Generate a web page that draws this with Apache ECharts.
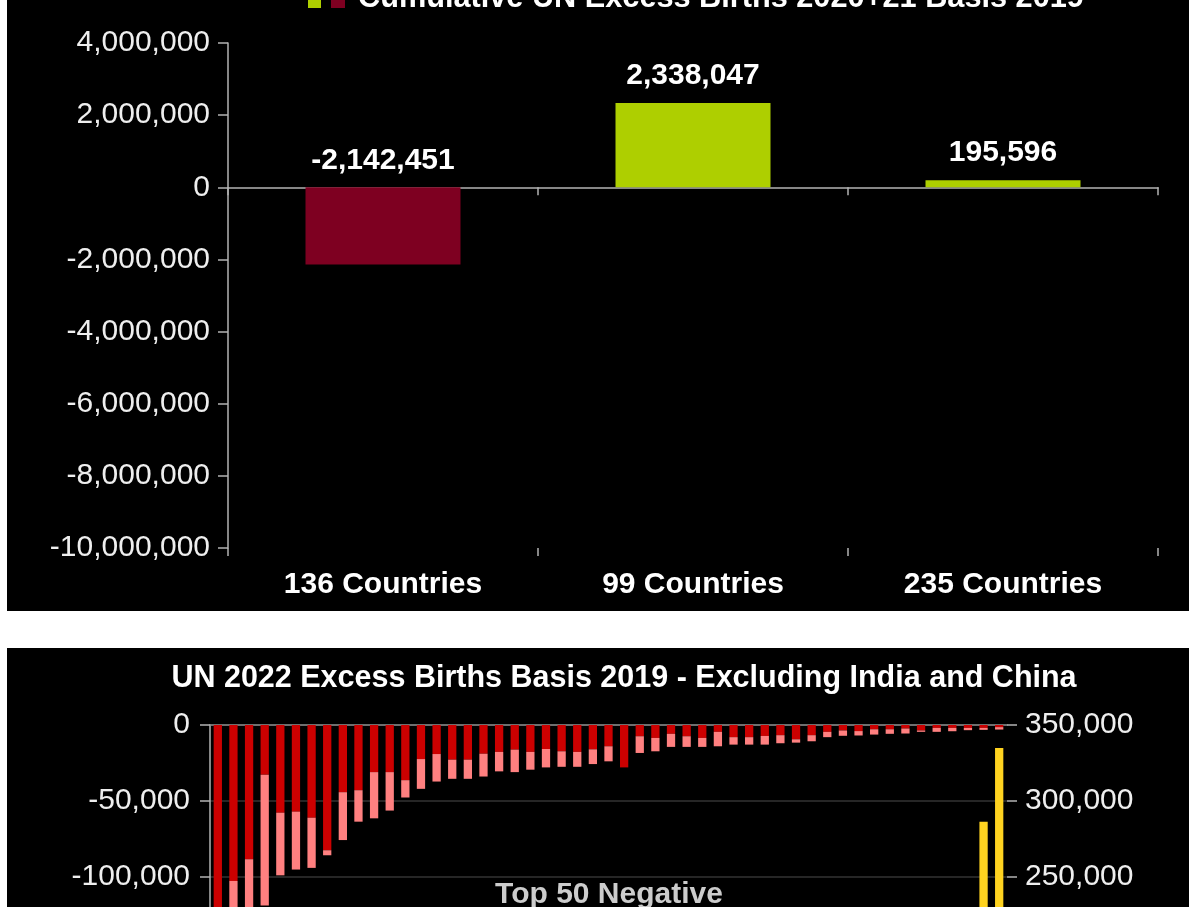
<!DOCTYPE html>
<html>
<head>
<meta charset="utf-8">
<script src="https://cdn.jsdelivr.net/npm/echarts@6/dist/echarts.min.js"></script>
<style>
  html, body { margin: 0; padding: 0; background: #fff; }
  #chart { width: 1189px; height: 907px; }
</style>
</head>
<body>
<div id="chart"></div>
<script>
// top: cumulative UN excess births 2020+21 (basis 2019)
const groupNames = ['136 Countries', '99 Countries', '235 Countries']
const groupTotals = [-2142451, 2338047, 195596]
const groupColors = ['#7e0021', '#aecf00', '#aecf00']

// bottom: UN 2022 excess births, top 50 negative (excl. India & China)
const ranks = ['1', '2', '3', '4', '5', '6', '7', '8', '9', '10', '11', '12', '13', '14', '15', '16', '17',
  '18', '19', '20', '21', '22', '23', '24', '25', '26', '27', '28', '29', '30', '31', '32', '33', '34',
  '35', '36', '37', '38', '39', '40', '41', '42', '43', '44', '45', '46', '47', '48', '49', '50', '51']
const negDark = [-140000, -102600, -88300, -32700, -57700, -57000, -61000, -82400, -44200, -42900,
  -31000, -31000, -36300, -22400, -19100, -22800, -22800, -18900, -17700, -16200,
  -17700, -15800, -17300, -17700, -16000, -14000, -27900, -7400, -8500, -5800,
  -7400, -8500, -4500, -8000, -8000, -7200, -6700, -9400, -6700, -4500,
  -3600, -4000, -2800, -2800, -2300, -3600, -1900, -1900, -1900, -1900, -1400]
const negLight = [-30000, -30000, -40000, -86000, -41200, -38100, -33000, -3300, -31500, -20700,
  -30400, -25300, -11400, -19600, -18100, -12600, -12600, -15000, -12800, -14800,
  -11700, -12100, -10200, -9800, -9700, -9900, 0, -11000, -8800, -8600,
  -7000, -5900, -9500, -4900, -4900, -5700, -5300, -2200, -4000, -3500,
  -3500, -2900, -3500, -3000, -3300, -900, -2600, -2200, -1500, -1300, -1600]
const posBars = ['-', '-', '-', '-', '-', '-', '-', '-', '-', '-', '-', '-', '-', '-', '-', '-', '-',
  '-', '-', '-', '-', '-', '-', '-', '-', '-', '-', '-', '-', '-', '-', '-', '-', '-',
  '-', '-', '-', '-', '-', '-', '-', '-', '-', '-', '-', '-', '-', '-', '-', 286400, 334900]

const fmt = v => Number(v).toLocaleString('en-US')
const font = 'Liberation Sans'
const axisGray = '#b3b3b3'
const labelColor = '#eeeeee'

const chart = echarts.init(document.getElementById('chart'))

const option = {
  backgroundColor: '#ffffff',
  animation: false,
  textStyle: { fontFamily: font },
  graphic: [
    { type: 'rect', z: -10, shape: { x: 7, y: 0, width: 1182, height: 611 }, style: { fill: '#000' } },
    { type: 'rect', z: -10, shape: { x: 7, y: 648, width: 1182, height: 259 }, style: { fill: '#000' } },
    // legend squares + title of top chart (clipped at the top edge)
    { type: 'rect', shape: { x: 308, y: -6, width: 13, height: 14 }, style: { fill: '#aecf00' } },
    { type: 'rect', shape: { x: 331, y: -6, width: 14, height: 14 }, style: { fill: '#7e0021' } },
    {
      type: 'text', x: 358, y: -1,
      style: {
        text: 'Cumulative UN Excess Births 2020+21 Basis 2019', fill: '#fff',
        font: 'bold 30.7px "Liberation Sans"', verticalAlign: 'middle', align: 'left'
      }
    },
    {
      type: 'text', x: 624, y: 679,
      style: {
        text: 'UN 2022 Excess Births Basis 2019 - Excluding India and China', fill: '#fff',
        font: 'bold 30.5px "Liberation Sans"', verticalAlign: 'middle', align: 'center'
      }
    },
    {
      type: 'text', x: 609, y: 895, z: 20,
      style: {
        text: 'Top 50 Negative', fill: '#cccccc',
        font: 'bold 30px "Liberation Sans"', verticalAlign: 'middle', align: 'center'
      }
    }
  ],
  grid: [
    { left: 228, right: 31, top: 43, height: 505, outerBoundsMode: 'none', containLabel: false },
    { left: 210, right: 182, top: 725, height: 532, outerBoundsMode: 'none', containLabel: false }
  ],
  xAxis: [
    {
      gridIndex: 0, type: 'category', data: groupNames,
      axisLine: { onZero: true, lineStyle: { color: axisGray, width: 1.5 } },
      axisTick: { show: true, length: 8, lineStyle: { color: axisGray, width: 1.5 } },
      axisLabel: { show: false }
    },
    {
      gridIndex: 0, type: 'category', data: groupNames, position: 'bottom',
      axisLine: { show: false, onZero: false },
      axisTick: { show: true, length: 8, lineStyle: { color: axisGray, width: 1.5 } },
      axisLabel: { color: '#fff', fontSize: 30, fontWeight: 'bold', margin: 22 }
    },
    {
      gridIndex: 1, type: 'category', data: ranks,
      axisLine: { onZero: true, lineStyle: { color: '#888888', width: 1.5 } },
      axisTick: { show: false },
      axisLabel: { show: false }
    }
  ],
  yAxis: [
    {
      gridIndex: 0, type: 'value', min: -10000000, max: 4000000, interval: 2000000,
      axisLine: { show: true, lineStyle: { color: axisGray, width: 1.5 } },
      axisTick: { show: true, length: 10, lineStyle: { color: axisGray, width: 1.5 } },
      axisLabel: { color: labelColor, fontSize: 30, margin: 18, formatter: fmt },
      splitLine: { show: false }
    },
    {
      gridIndex: 1, type: 'value', min: -350000, max: 0, interval: 50000,
      axisLine: { show: true, lineStyle: { color: axisGray, width: 1.5 } },
      axisTick: { show: true, length: 10, lineStyle: { color: axisGray, width: 1.5 } },
      axisLabel: { color: labelColor, fontSize: 30, margin: 20, formatter: fmt },
      splitLine: { show: true, lineStyle: { color: '#333333', width: 1.5 } }
    },
    {
      gridIndex: 1, type: 'value', position: 'right', min: 0, max: 350000, interval: 50000,
      axisLine: { show: false },
      axisTick: { show: true, length: 10, lineStyle: { color: axisGray, width: 1.5 } },
      axisLabel: { color: labelColor, fontSize: 30, margin: 18, formatter: fmt },
      splitLine: { show: false }
    }
  ],
  series: [
    {
      type: 'bar', xAxisIndex: 0, yAxisIndex: 0, barWidth: '50%',
      data: groupTotals.map((v, i) => ({ value: v, itemStyle: { color: groupColors[i] } })),
      label: {
        show: true, position: 'top', distance: 12, color: '#fff',
        fontSize: 30, fontWeight: 'bold', formatter: p => fmt(p.value)
      }
    },
    {
      type: 'bar', xAxisIndex: 2, yAxisIndex: 1, stack: 'neg', barWidth: '53%',
      data: negDark, itemStyle: { color: '#cc0000' }
    },
    {
      type: 'bar', xAxisIndex: 2, yAxisIndex: 1, stack: 'neg', barWidth: '53%',
      data: negLight, itemStyle: { color: '#ff8080' }
    },
    {
      type: 'bar', xAxisIndex: 2, yAxisIndex: 2, barWidth: '53%', barGap: '-100%',
      data: posBars, itemStyle: { color: '#ffd320' }
    }
  ]
}

chart.setOption(option)
</script>
</body>
</html>
